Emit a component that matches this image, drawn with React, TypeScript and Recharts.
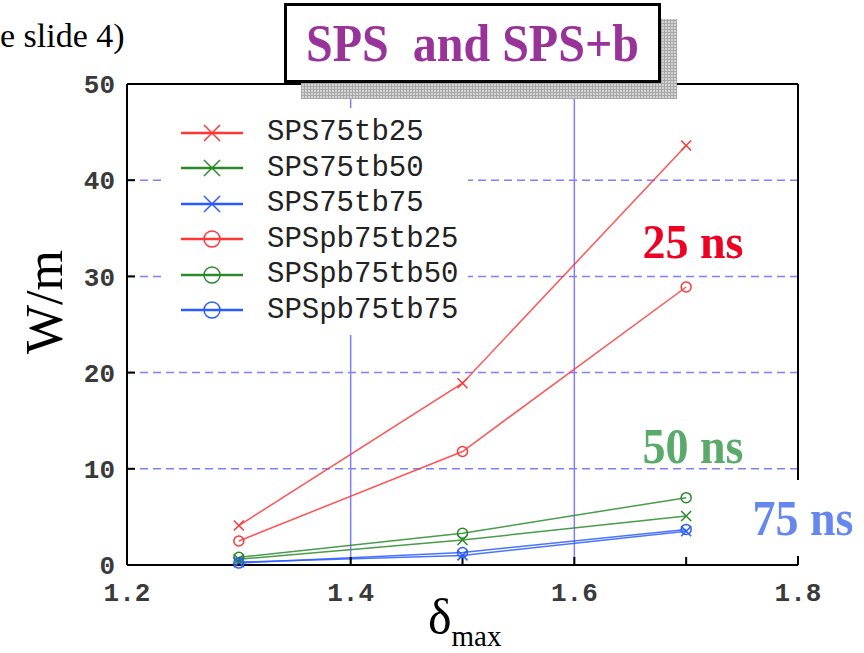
import React from "react";
import { LineChart, Line, XAxis, YAxis, CartesianGrid, ReferenceLine, Legend } from "recharts";

// delta_max values where the points sit
const deltaMax = [1.3, 1.5, 1.7];

// W/m
const sps75tb25 = [4.1, 18.9, 43.6];
const sps75tb50 = [0.6, 2.6, 5.1];
const sps75tb75 = [0.3, 1.0, 3.5];
const spspb75tb25 = [2.5, 11.8, 28.9];
const spspb75tb50 = [0.8, 3.3, 7.0];
const spspb75tb75 = [0.2, 1.3, 3.7];

const xTicks = [1.2, 1.3, 1.4, 1.5, 1.6, 1.7, 1.8];
const xLabelTicks = [1.2, 1.4, 1.6, 1.8];
const yTicks = [0, 10, 20, 30, 40, 50];
const xGridLines = [1.4, 1.6];

const RED = "#ff3636";
const GREEN = "#2a8a2a";
const BLUE = "#2a5cff";
const GRID = "#7f7fff";

const series = [
  { key: "sps75tb25", name: "SPS75tb25", color: RED, marker: "cross", values: sps75tb25 },
  { key: "sps75tb50", name: "SPS75tb50", color: GREEN, marker: "cross", values: sps75tb50 },
  { key: "sps75tb75", name: "SPS75tb75", color: BLUE, marker: "cross", values: sps75tb75 },
  { key: "spspb75tb25", name: "SPSpb75tb25", color: RED, marker: "circle", values: spspb75tb25 },
  { key: "spspb75tb50", name: "SPSpb75tb50", color: GREEN, marker: "circle", values: spspb75tb50 },
  { key: "spspb75tb75", name: "SPSpb75tb75", color: BLUE, marker: "circle", values: spspb75tb75 },
];

const data = deltaMax.map((x, i) => {
  const row: Record<string, number> = { x };
  series.forEach((s) => {
    row[s.key] = s.values[i];
  });
  return row;
});

function Marker({ cx, cy, marker, color, size = 5 }: any) {
  if (marker === "cross") {
    return (
      <path
        d={`M${cx - size},${cy - size}L${cx + size},${cy + size}M${cx - size},${cy + size}L${cx + size},${cy - size}`}
        stroke={color}
        strokeWidth={1.5}
        fill="none"
      />
    );
  }
  return <circle cx={cx} cy={cy} r={size} stroke={color} strokeWidth={1.5} fill="none" />;
}

const makeDot = (marker: string, color: string) => (props: any) => {
  const { cx, cy, index } = props;
  if (cx == null || cy == null) return <g key={index} />;
  return (
    <g key={index}>
      <Marker cx={cx} cy={cy} marker={marker} color={color} />
    </g>
  );
};

function LegendBox() {
  return (
    <div style={{ background: "#fff", width: 303, height: 227, paddingTop: 7, boxSizing: "border-box" }}>
      {series.map((s) => (
        <div key={s.key} style={{ display: "flex", alignItems: "center", height: 35.5 }}>
          <svg width={102} height={24} style={{ flex: "none" }}>
            <line x1={16} x2={78} y1={12} y2={12} stroke={s.color} strokeWidth={2.5} />
            <Marker cx={47} cy={12} marker={s.marker} color={s.color} size={8} />
          </svg>
          <span
            style={{
              fontFamily: "'Liberation Mono', monospace",
              fontSize: 29,
              color: "#222",
              lineHeight: 1,
            }}
          >
            {s.name}
          </span>
        </div>
      ))}
    </div>
  );
}

const tickFont = { fontFamily: "'Liberation Mono', monospace", fontSize: 26, fontWeight: "bold", fill: "#3a3a3a" };
const serif = "'Liberation Serif', 'Times New Roman', serif";

export default function App() {
  return (
    <div style={{ position: "absolute", left: 0, top: 0, width: 864, height: 653, background: "#fff", overflow: "hidden" }}>
      <div style={{ position: "absolute", left: 0, top: 16, fontFamily: serif, fontSize: 34, color: "#000", whiteSpace: "pre", lineHeight: 1.2 }}>
        e slide 4)
      </div>

      <LineChart width={864} height={653} data={data} margin={{ top: 74, right: 56, bottom: 48, left: 67 }}>
        <CartesianGrid vertical={false} stroke={GRID} strokeWidth={1.5} strokeDasharray="8 5" />
        {xGridLines.map((v) => (
          <ReferenceLine key={v} x={v} stroke={GRID} strokeWidth={1.5} />
        ))}
        <XAxis
          dataKey="x"
          type="number"
          domain={[1.2, 1.8]}
          ticks={xTicks}
          tickFormatter={(v: number) => (xLabelTicks.includes(v) ? v.toFixed(1) : "")}
          tick={tickFont}
          tickSize={-8}
          tickMargin={26}
          height={40}
          axisLine={{ stroke: "#000", strokeWidth: 2 }}
          tickLine={{ stroke: "#000", strokeWidth: 2 }}
          interval={0}
        />
        <XAxis
          xAxisId="top"
          orientation="top"
          type="number"
          domain={[1.2, 1.8]}
          ticks={xTicks}
          tick={false}
          tickSize={-8}
          height={10}
          axisLine={{ stroke: "#000", strokeWidth: 2 }}
          tickLine={{ stroke: "#000", strokeWidth: 2 }}
          interval={0}
        />
        <YAxis
          type="number"
          domain={[0, 50]}
          ticks={yTicks}
          tick={tickFont}
          tickSize={-8}
          tickMargin={20}
          width={60}
          axisLine={{ stroke: "#000", strokeWidth: 2 }}
          tickLine={{ stroke: "#000", strokeWidth: 2 }}
          interval={0}
        />
        <YAxis
          yAxisId="right"
          orientation="right"
          type="number"
          domain={[0, 50]}
          ticks={yTicks}
          tick={false}
          tickSize={-8}
          width={10}
          axisLine={{ stroke: "#000", strokeWidth: 2 }}
          tickLine={{ stroke: "#000", strokeWidth: 2 }}
          interval={0}
        />
        {series.map((s) => (
          <Line
            key={s.key}
            dataKey={s.key}
            name={s.name}
            stroke={s.color}
            strokeWidth={1.5}
            strokeOpacity={0.85}
            dot={makeDot(s.marker, s.color)}
            activeDot={false}
            isAnimationActive={false}
          />
        ))}
        <Legend
          layout="vertical"
          align="center"
          verticalAlign="middle"
          content={() => <LegendBox />}
          wrapperStyle={{ left: 165, top: 108, width: 303, height: 227 }}
        />
      </LineChart>

      {/* title box with hatched shadow */}
      <div
        style={{
          position: "absolute",
          left: 301,
          top: 19,
          width: 376,
          height: 80,
          backgroundColor: "#d4d4d4",
          backgroundImage:
            "repeating-linear-gradient(0deg, #a8a8a8 0 1px, transparent 1px 3px), repeating-linear-gradient(90deg, #a8a8a8 0 1px, transparent 1px 3px)",
        }}
      />
      <div
        style={{
          position: "absolute",
          left: 284,
          top: 3,
          width: 377,
          height: 80,
          boxSizing: "border-box",
          border: "3px solid #000",
          background: "#fff",
          display: "flex",
          alignItems: "center",
          justifyContent: "center",
        }}
      >
        <span
          style={{
            fontFamily: serif,
            fontWeight: "bold",
            fontSize: 48,
            color: "#993399",
            whiteSpace: "pre",
            lineHeight: 1,
            display: "inline-block",
            transform: "scaleY(1.12)",
          }}
        >
          SPS  and SPS+b
        </span>
      </div>

      {/* axis titles */}
      <div
        style={{
          position: "absolute",
          left: 45,
          top: 302,
          transform: "translate(-50%, -50%) rotate(-90deg)",
          fontFamily: serif,
          fontSize: 52,
          color: "#000",
          lineHeight: 1,
          whiteSpace: "nowrap",
        }}
      >
        W/m
      </div>
      <div style={{ position: "absolute", left: 428, top: 592, fontFamily: serif, fontSize: 50, color: "#000", lineHeight: 1, whiteSpace: "nowrap" }}>
        δ<span style={{ fontSize: 29, position: "relative", top: 12 }}>max</span>
      </div>

      {/* bunch spacing notes */}
      <div style={{ position: "absolute", left: 693, top: 242, transform: "translate(-50%, -50%) scaleY(1.1)", fontFamily: serif, fontWeight: "bold", fontSize: 46, color: "#ee0022", lineHeight: 1, whiteSpace: "nowrap" }}>
        25 ns
      </div>
      <div style={{ position: "absolute", left: 693, top: 446, transform: "translate(-50%, -50%) scaleY(1.1)", fontFamily: serif, fontWeight: "bold", fontSize: 46, color: "#5aaa6a", lineHeight: 1, whiteSpace: "nowrap" }}>
        50 ns
      </div>
      <div
        style={{
          position: "absolute",
          left: 742,
          top: 480,
          width: 122,
          height: 76,
          background: "#fff",
          display: "flex",
          alignItems: "center",
          justifyContent: "center",
        }}
      >
        <span
          style={{
            fontFamily: serif,
            fontWeight: "bold",
            fontSize: 46,
            color: "#6688ee",
            whiteSpace: "nowrap",
            lineHeight: 1,
            display: "inline-block",
            transform: "scaleY(1.1)",
          }}
        >
          75 ns
        </span>
      </div>
    </div>
  );
}
